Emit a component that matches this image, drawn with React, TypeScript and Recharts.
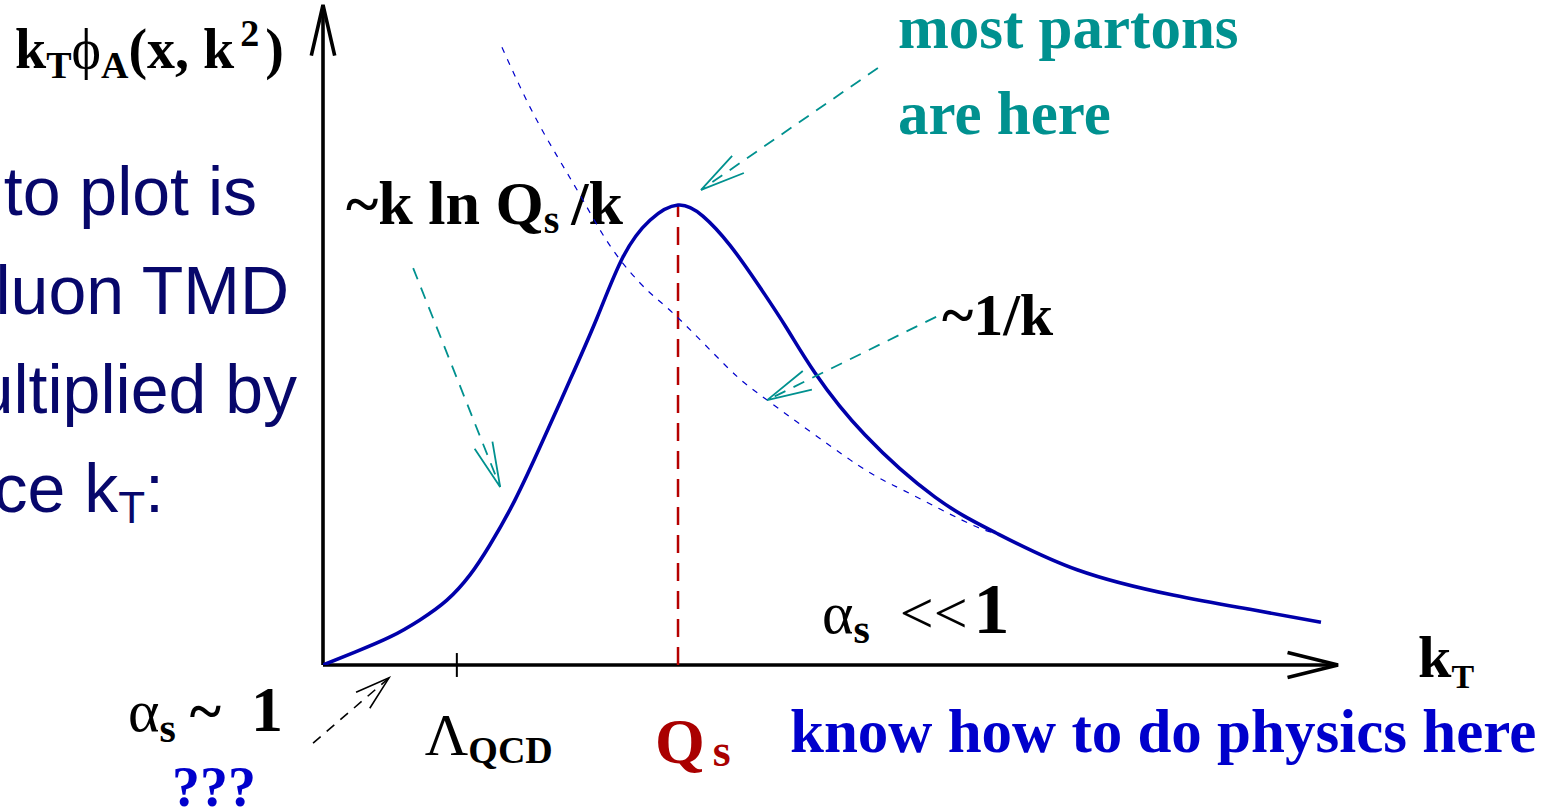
import React from "react";
import { LineChart, Line, XAxis, YAxis, ReferenceLine } from "recharts";

// kT in units of Qs, distribution normalised to its peak
const X_MAX = 2.859;
const Y_MAX = 1.435;
const QS = 1.0;
const LAMBDA_QCD = 0.377;

// kT * phi_A(x, k^2): saturation curve
const curveKt = [
  0, 0.09, 0.189, 0.273, 0.349, 0.414, 0.47, 0.541, 0.62, 0.696, 0.772, 0.845, 0.921, 1.0,
  1.07, 1.146, 1.223, 1.304, 1.386, 1.527, 1.724, 1.896, 2.124, 2.394, 2.611, 2.811,
];
const curvePhi = [
  0, 0.028, 0.061, 0.098, 0.141, 0.196, 0.261, 0.359, 0.489, 0.62, 0.755, 0.887, 0.967, 1.0,
  0.976, 0.913, 0.83, 0.735, 0.635, 0.5, 0.365, 0.287, 0.207, 0.152, 0.121, 0.093,
];

// ~1/k asymptote
const tailKt = [0.504, 0.583, 0.659, 0.732, 0.817, 0.913, 0.997, 1.138, 1.251, 1.485, 1.606, 1.738, 1.842, 1.893];
const tailPhi = [1.343, 1.213, 1.107, 1.011, 0.902, 0.815, 0.757, 0.648, 0.576, 0.446, 0.391, 0.339, 0.3, 0.287];

const curve = curveKt.map((kt, i) => ({ kt, phi: curvePhi[i] }));
const tail = tailKt.map((kt, i) => ({ kt, phi: tailPhi[i] }));
const peak = Math.max(...curvePhi);

const SERIF = "'Liberation Serif', 'Times New Roman', serif";
const SANS = "'Liberation Sans', Arial, sans-serif";
const TEAL = "#00918F";
const NAVY = "#07076B";

type ArrowOpts = { color: string; width: number; dash?: string; head: number; spread: number };

// line between two data points with an open "V" head at the second one
const arrow = (o: ArrowOpts) => (p: any) => {
  const { x1, y1, x2, y2 } = p;
  const a = Math.atan2(y2 - y1, x2 - x1);
  const s = (o.spread * Math.PI) / 180;
  const h1 = [x2 - o.head * Math.cos(a - s), y2 - o.head * Math.sin(a - s)];
  const h2 = [x2 - o.head * Math.cos(a + s), y2 - o.head * Math.sin(a + s)];
  return (
    <g>
      <line x1={x1} y1={y1} x2={x2} y2={y2} stroke={o.color} strokeWidth={o.width} strokeDasharray={o.dash} />
      <polyline
        points={`${h1[0]},${h1[1]} ${x2},${y2} ${h2[0]},${h2[1]}`}
        fill="none"
        stroke={o.color}
        strokeWidth={o.width}
      />
    </g>
  );
};

const tickMark = (p: any) => (
  <g>
    <line x1={p.x1} y1={p.y1} x2={p.x2} y2={p.y2} stroke="#000" strokeWidth={2} />
    <text x={p.x1 - 32} y={Math.max(p.y1, p.y2) + 78} fontFamily={SERIF} fontSize={60}>
      Λ<tspan fontSize={38} fontWeight="bold" dy={8}>QCD</tspan>
    </text>
  </g>
);

const qsLine = (p: any) => (
  <g>
    <line x1={p.x1} y1={p.y1} x2={p.x2} y2={p.y2} stroke="#B50000" strokeWidth={2.5} strokeDasharray="18 10" />
    <text x={p.x1 - 23} y={Math.max(p.y1, p.y2) + 98} fontFamily={SERIF} fontSize={64} fontWeight="bold" fill="#AA0000">
      Q<tspan fontSize={46} dx={8} dy={3}>s</tspan>
    </text>
  </g>
);

export default function App() {
  return (
    <div style={{ position: "absolute", left: 0, top: 0, width: 1552, height: 812, background: "#fff", overflow: "hidden" }}>
      <LineChart width={1552} height={812} margin={{ top: 5, right: 214, bottom: 147, left: 323 }}>
        <XAxis dataKey="kt" type="number" domain={[0, X_MAX]} allowDataOverflow hide />
        <YAxis type="number" domain={[0, Y_MAX]} allowDataOverflow hide />

        {/* axes with arrow heads */}
        <ReferenceLine
          segment={[{ x: 0, y: 0 }, { x: X_MAX, y: 0 }]}
          ifOverflow="visible"
          shape={arrow({ color: "#000", width: 3.6, head: 52, spread: 14 })}
        />
        <ReferenceLine
          segment={[{ x: 0, y: 0 }, { x: 0, y: Y_MAX }]}
          ifOverflow="visible"
          shape={arrow({ color: "#000", width: 3.6, head: 52, spread: 13 })}
        />
        <ReferenceLine
          segment={[{ x: LAMBDA_QCD, y: -0.026 }, { x: LAMBDA_QCD, y: 0.026 }]}
          ifOverflow="visible"
          shape={tickMark}
        />
        <ReferenceLine segment={[{ x: QS, y: 0 }, { x: QS, y: peak }]} ifOverflow="visible" shape={qsLine} />

        <Line
          data={tail}
          dataKey="phi"
          type="natural"
          stroke="#0000CC"
          strokeWidth={1.2}
          strokeDasharray="6 7"
          dot={false}
          activeDot={false}
          isAnimationActive={false}
        />
        <Line
          data={curve}
          dataKey="phi"
          type="natural"
          stroke="#0000AA"
          strokeWidth={3.6}
          dot={false}
          activeDot={false}
          isAnimationActive={false}
        />

        {/* annotation arrows */}
        <ReferenceLine
          segment={[{ x: 1.563, y: 1.298 }, { x: 1.065, y: 1.033 }]}
          ifOverflow="visible"
          shape={arrow({ color: TEAL, width: 1.8, dash: "12 9", head: 46, spread: 13 })}
        />
        <ReferenceLine
          segment={[{ x: 0.254, y: 0.863 }, { x: 0.499, y: 0.387 }]}
          ifOverflow="visible"
          shape={arrow({ color: TEAL, width: 1.8, dash: "12 9", head: 46, spread: 12 })}
        />
        <ReferenceLine
          segment={[{ x: 1.727, y: 0.757 }, { x: 1.251, y: 0.576 }]}
          ifOverflow="visible"
          shape={arrow({ color: TEAL, width: 1.8, dash: "12 9", head: 46, spread: 13 })}
        />
        <ReferenceLine
          segment={[{ x: -0.028, y: -0.17 }, { x: 0.186, y: -0.028 }]}
          ifOverflow="visible"
          shape={arrow({ color: "#000", width: 1.6, dash: "10 8", head: 36, spread: 17 })}
        />

        {/* axis titles */}
        <text x={15} y={68} fontFamily={SERIF} fontWeight="bold" fontSize={56}>
          k<tspan fontSize={38} dy={10}>T</tspan>
          <tspan dy={-10} fontWeight="normal">ϕ</tspan>
          <tspan fontSize={38} dy={10}>A</tspan>
          <tspan dy={-10}>(x, k</tspan>
          <tspan fontSize={38} dx={6} dy={-22}>2</tspan>
          <tspan dx={6} dy={22}>)</tspan>
        </text>
        <text x={1418} y={677} fontFamily={SERIF} fontWeight="bold" fontSize={60}>
          k<tspan fontSize={34} dy={11}>T</tspan>
        </text>

        {/* side text */}
        <g fontFamily={SANS} fontSize={68} fill={NAVY} textAnchor="end">
          <text x={257} y={215}>to plot is</text>
          <text x={289} y={314}>luon TMD</text>
          <text x={297} y={413}>ultiplied by</text>
          <text x={164} y={512}>
            ce k<tspan fontSize={44} dy={11}>T</tspan>
            <tspan dy={-11}>:</tspan>
          </text>
        </g>

        {/* curve annotations */}
        <text x={346} y={224} fontFamily={SERIF} fontWeight="bold" fontSize={62}>
          ~k ln Q<tspan fontSize={40} dy={9}>s</tspan>
          <tspan dx={12} dy={-9}>/k</tspan>
        </text>
        <g fontFamily={SERIF} fontWeight="bold" fontSize={61} fill={TEAL}>
          <text x={898} y={48}>most partons</text>
          <text x={898} y={134}>are here</text>
        </g>
        <text x={942} y={335} fontFamily={SERIF} fontWeight="bold" fontSize={60}>
          ~1/k
        </text>
        <text x={822} y={633} fontFamily={SERIF} fontSize={60}>
          α<tspan fontSize={42} fontWeight="bold" dy={10}>s</tspan>
          <tspan dx={30} dy={-10}>&lt;&lt;</tspan>
          <tspan fontWeight="bold" fontSize={72} dx={6}>1</tspan>
        </text>
        <text x={128} y={731} fontFamily={SERIF} fontSize={60}>
          α<tspan fontSize={42} fontWeight="bold" dy={11}>s</tspan>
          <tspan fontWeight="bold" dx={14} dy={-11}>~</tspan>
          <tspan fontWeight="bold" fontSize={64} dx={30}>1</tspan>
        </text>
        <text x={172} y={806} fontFamily={SERIF} fontWeight="bold" fontSize={56} fill="#0000CC">
          ???
        </text>
        <text x={790} y={752} fontFamily={SERIF} fontWeight="bold" fontSize={61} fill="#0000CC">
          know how to do physics here
        </text>
      </LineChart>
    </div>
  );
}
